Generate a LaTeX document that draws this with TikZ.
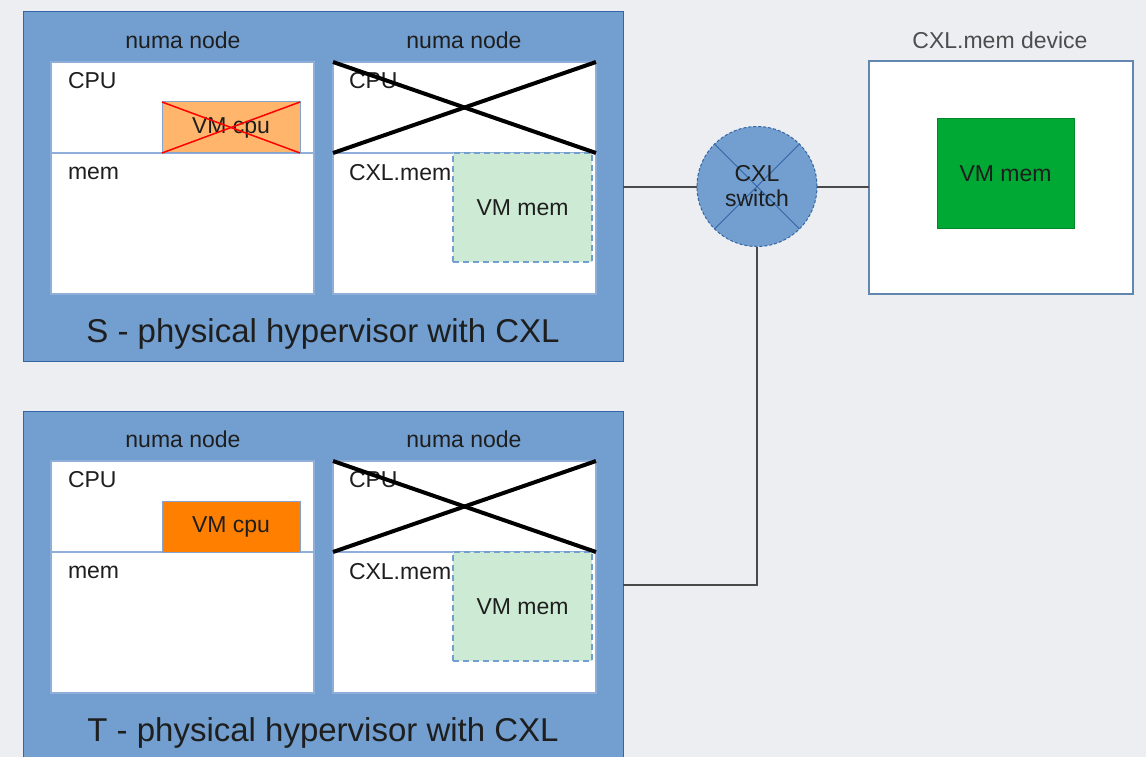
\documentclass[tikz,border=0pt]{standalone}
\usepackage{fontspec}
\setmainfont{Liberation Sans}
\definecolor{bg}{HTML}{ECEEF2}
\definecolor{hostblue}{HTML}{729FCF}
\definecolor{hostedge}{HTML}{3465A4}
\definecolor{areaedge}{HTML}{8FAEDA}
\definecolor{txt}{HTML}{1E1E1E}
\definecolor{greytxt}{HTML}{4D4D4D}
\definecolor{vmcpu}{HTML}{FF8000}
\definecolor{vmcpulight}{HTML}{FFB66C}
\definecolor{vmmemlight}{HTML}{CDEBD4}
\definecolor{vmmem}{HTML}{00A933}
\definecolor{wire}{HTML}{4A4A4A}
\begin{document}
\begin{tikzpicture}[
  x=1pt, y=-1pt,
  every node/.style={inner sep=0pt, outer sep=0pt},
  host/.style={draw=hostedge, line width=1pt, fill=hostblue, anchor=north west},
  area/.style={draw=areaedge, line width=1.5pt, fill=white, anchor=north west},
  lbl/.style={text=txt, font=\fontsize{23}{25}\selectfont},
  title/.style={text=txt, font=\fontsize{33}{36}\selectfont},
  cpuslot/.style={draw=hostedge!60, line width=1pt, anchor=north west,
    minimum width=138, minimum height=51, text=txt, font=\fontsize{23}{25}\selectfont},
  memslot/.style={draw=hostblue, line width=1.5pt, dash pattern=on 6pt off 4pt,
    fill=vmmemlight, anchor=north west, minimum width=139, minimum height=109,
    text=txt, font=\fontsize{23}{25}\selectfont},
  strike/.style={line width=4pt, black},
  redstrike/.style={line width=1.5pt, red},
  wireline/.style={line width=2pt, wire},
]
\useasboundingbox (0,0) rectangle (1146,757);
\clip (0,0) rectangle (1146,757);
\fill[bg] (0,0) rectangle (1146,757);

% ---------- host S ----------
\node[host, minimum width=600, minimum height=349] (S) at (23,12) {};
\node[lbl] (sLblA) at (183,40) {numa node};
\node[lbl] (sLblB) at (464,40) {numa node};
\node[area, minimum width=263, minimum height=91]  (sCpuA) at (51,62) {};
\node[area, minimum width=263, minimum height=141] (sMemA) at (51,153) {};
\node[area, minimum width=263, minimum height=91]  (sCpuB) at (333,62) {};
\node[area, minimum width=263, minimum height=141] (sMemB) at (333,153) {};
\node[lbl, anchor=west] (sCpuTxtA) at (68,81) {CPU};
\node[lbl, anchor=west] (sMemTxtA) at (68,173) {mem};
\node[lbl, anchor=west] (sCpuTxtB) at (349,81) {CPU};
\node[lbl, anchor=west] (sMemTxtB) at (349,173) {CXL.mem};
\node[cpuslot, fill=vmcpulight] (sVmCpu) at (162,102) {VM cpu};
\draw[redstrike] (sVmCpu.north west) -- (sVmCpu.south east);
\draw[redstrike] (sVmCpu.south west) -- (sVmCpu.north east);
\node[memslot] (sVmMem) at (453,153) {VM mem};
\draw[strike] (sCpuB.north west) -- (sCpuB.south east);
\draw[strike] (sCpuB.south west) -- (sCpuB.north east);
\node[title] (sTitle) at (323,334) {S - physical hypervisor with CXL};

% ---------- host T ----------
\node[host, minimum width=600, minimum height=347] (T) at (23,411) {};
\node[lbl] (tLblA) at (183,439) {numa node};
\node[lbl] (tLblB) at (464,439) {numa node};
\node[area, minimum width=263, minimum height=91]  (tCpuA) at (51,461) {};
\node[area, minimum width=263, minimum height=141] (tMemA) at (51,552) {};
\node[area, minimum width=263, minimum height=91]  (tCpuB) at (333,461) {};
\node[area, minimum width=263, minimum height=141] (tMemB) at (333,552) {};
\node[lbl, anchor=west] (tCpuTxtA) at (68,480) {CPU};
\node[lbl, anchor=west] (tMemTxtA) at (68,572) {mem};
\node[lbl, anchor=west] (tCpuTxtB) at (349,480) {CPU};
\node[lbl, anchor=west] (tMemTxtB) at (349,572) {CXL.mem};
\node[cpuslot, fill=vmcpu] (tVmCpu) at (162,501) {VM cpu};
\node[memslot] (tVmMem) at (453,552) {VM mem};
\draw[strike] (tCpuB.north west) -- (tCpuB.south east);
\draw[strike] (tCpuB.south west) -- (tCpuB.north east);
\node[title] (tTitle) at (323,733) {T - physical hypervisor with CXL};

% ---------- CXL switch ----------
\node[circle, minimum size=120, fill=hostblue, draw=hostedge, line width=1pt,
  dash pattern=on 3pt off 2pt] (sw) at (757,186.5) {};
\draw[hostedge, line width=1pt] (sw.45) -- (sw.225);
\draw[hostedge, line width=1pt] (sw.135) -- (sw.315);
\node[lbl, align=center] (swTxt) at (757,186) {CXL\\switch};

% ---------- CXL.mem device ----------
\node[lbl, text=greytxt] (devLbl) at (1000,40) {CXL.mem device};
\node[draw=hostblue!85!black, line width=2pt, fill=white, anchor=north west,
  minimum width=264, minimum height=233] (dev) at (869,61) {};
\node[draw=vmmem!80!black, line width=1pt, fill=vmmem, anchor=north west,
  minimum width=137, minimum height=109, lbl] (devMem) at (937,119) {};
\node[lbl] (devMemTxt) at (devMem.center) {VM mem};

% ---------- links ----------
\draw[wireline] (S.east) -- (sw.west);
\draw[wireline] (sw.east) -- (sw.east -| dev.west);
\draw[wireline] (T.east) -| (sw.south);
\end{tikzpicture}
\end{document}
